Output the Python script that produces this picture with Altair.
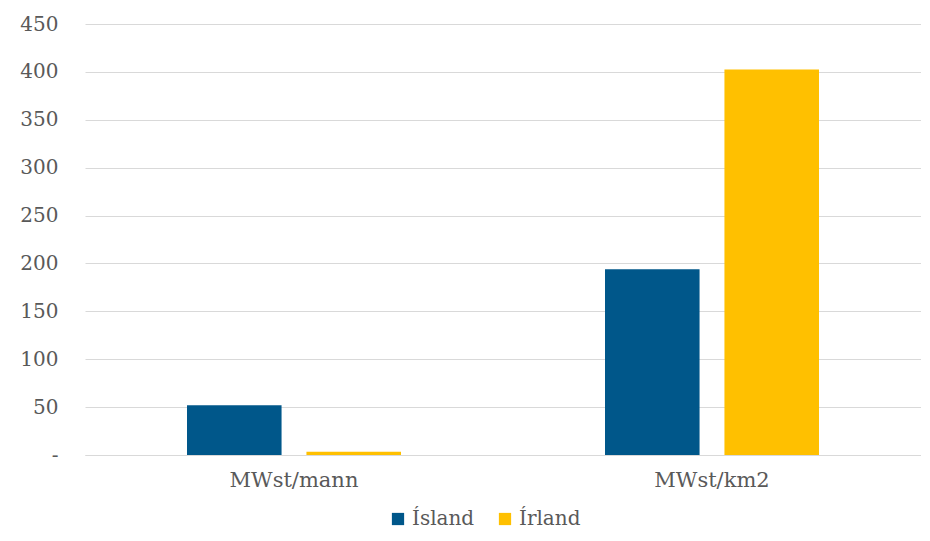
import altair as alt
import pandas as pd

categories = ["MWst/mann", "MWst/km2"]
series = ["Ísland", "Írland"]
island_values = [52, 194]
irland_values = [3.5, 402.5]
colors = ["#00578A", "#FFC000"]
y_ticks = [0, 50, 100, 150, 200, 250, 300, 350, 400, 450]

rows = []
for i, c in enumerate(categories):
    rows.append({"flokkur": c, "land": series[0], "gildi": island_values[i]})
    rows.append({"flokkur": c, "land": series[1], "gildi": irland_values[i]})
df = pd.DataFrame(rows)

FONT = "DejaVu Serif"
TXT = "#595959"
FS = 20

chart = alt.Chart(df).mark_bar().encode(
    x=alt.X("flokkur:N", sort=categories, title=None,
            scale=alt.Scale(paddingInner=0, paddingOuter=0),
            axis=alt.Axis(labelAngle=0, ticks=False, domain=True, domainColor="#d9d9d9",
                          labelFont=FONT, labelFontSize=21, labelColor=TXT, labelPadding=14)),
    xOffset=alt.XOffset("land:N", sort=series,
                        scale=alt.Scale(paddingInner=0.2083, paddingOuter=0.854)),
    y=alt.Y("gildi:Q", title=None,
            scale=alt.Scale(domain=[0, 450], nice=False),
            axis=alt.Axis(values=y_ticks, ticks=False, domain=False, gridColor="#d9d9d9",
                          labelExpr="datum.value == 0 ? '-' : datum.label",
                          labelFont=FONT, labelFontSize=FS, labelColor=TXT, labelPadding=27)),
    color=alt.Color("land:N", sort=series,
                    scale=alt.Scale(domain=series, range=colors),
                    legend=alt.Legend(orient="none", legendX=303, legendY=485,
                                      direction="horizontal", title=None, symbolType="square",
                                      symbolSize=150, symbolStrokeWidth=0,
                                      labelFont=FONT, labelFontSize=FS, labelColor=TXT,
                                      columnPadding=20)),
).properties(
    width=836, height=431,
    autosize=alt.AutoSizeParams(type="none"),
    padding={"left": 77, "top": 16, "right": 0, "bottom": 78},
).configure(font=FONT).configure_view(stroke=None)

chart.save("out.html", embed_options={"renderer": "svg", "actions": False})
